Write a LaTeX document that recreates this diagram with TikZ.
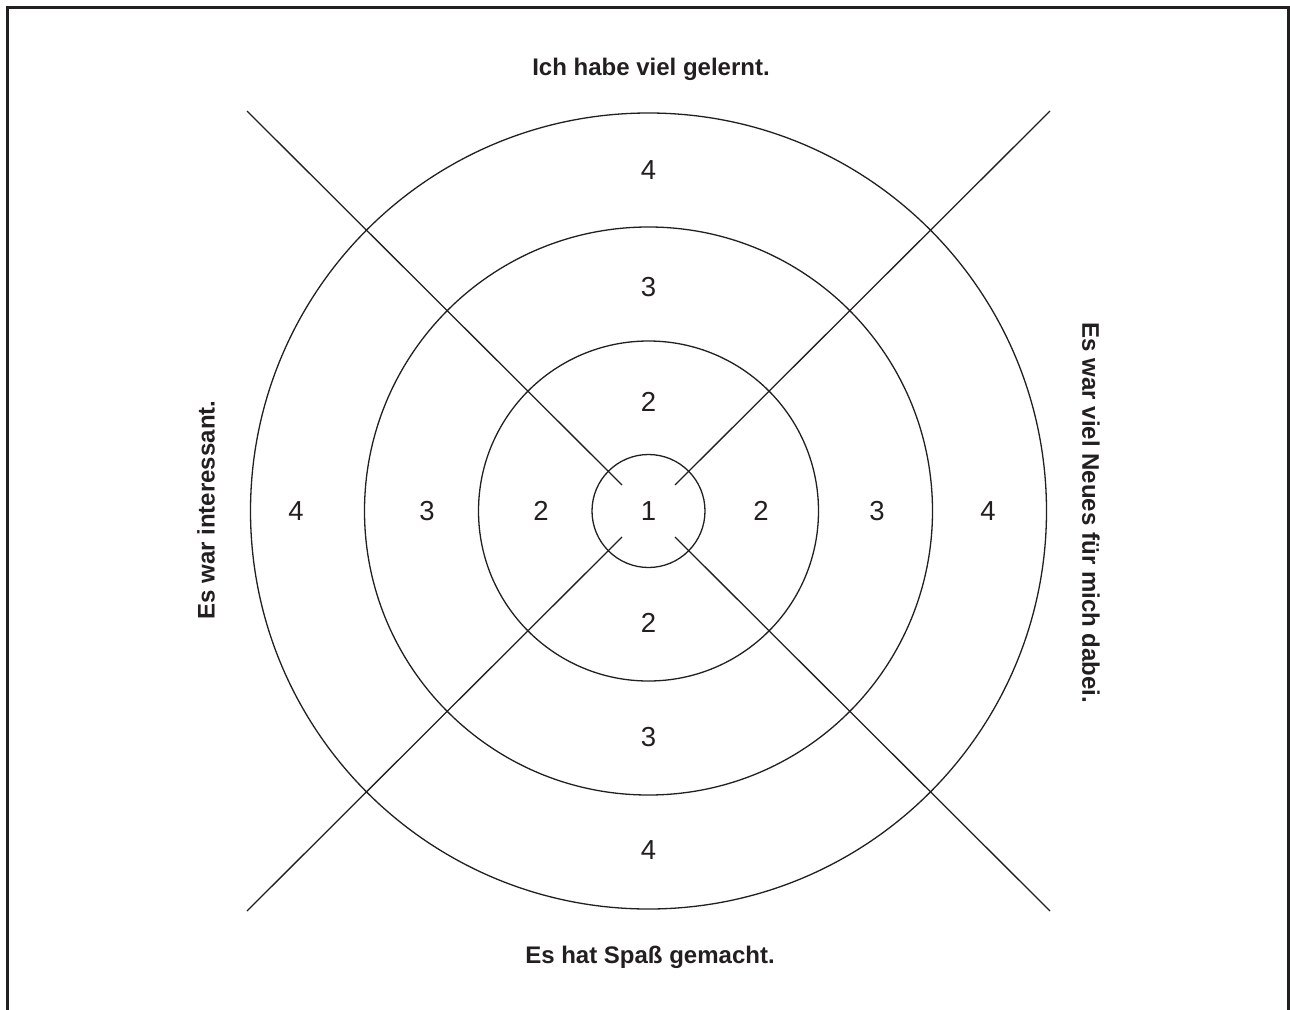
\documentclass[tikz,border=0pt]{standalone}
\usepackage{fontspec}
\setmainfont{Liberation Sans}
\definecolor{ink}{HTML}{231F20}
\begin{document}
\begin{tikzpicture}[x=1pt,y=-1pt,
  ring/.style={circle, draw=ink, line width=1.3pt, inner sep=0pt},
  ray/.style={draw=ink, line width=1.3pt},
  num/.style={text=ink, font=\fontsize{27.5}{30}\selectfont, inner sep=0pt},
  lbl/.style={text=ink, font=\bfseries\fontsize{24}{28}\selectfont, inner sep=0pt}]
\useasboundingbox (0,0) rectangle (1290,1009);
\draw[draw=ink, line width=2.6pt] (7.5,1020) -- (7.5,7.5) -- (1288.5,7.5) -- (1288.5,1020);
\coordinate (c) at (648.5,511);
\node[ring, minimum size=113pt] (r1) at (c) {};
\node[ring, minimum size=340pt] (r2) at (c) {};
\node[ring, minimum size=568pt] (r3) at (c) {};
\node[ring, minimum size=796pt] (r4) at (c) {};
% rays
\coordinate (tl) at (247,111);   \coordinate (tli) at (622,485);
\coordinate (tr) at (1050,111);  \coordinate (tri) at (675,485);
\coordinate (bl) at (247,911);   \coordinate (bli) at (622,537);
\coordinate (br) at (1050,911);  \coordinate (bri) at (675,537);
\draw[ray] (tl) -- (tli);
\draw[ray] (tr) -- (tri);
\draw[ray] (bl) -- (bli);
\draw[ray] (br) -- (bri);
% numbers
\node[num] (n1) at (648.5,511) {1};
\node[num] (t4) at (648.5,170) {4};
\node[num] (t3) at (648.5,287) {3};
\node[num] (t2) at (648.5,402) {2};
\node[num] (b2) at (648.5,623) {2};
\node[num] (b3) at (648.5,737) {3};
\node[num] (b4) at (648.5,850) {4};
\node[num] (l4) at (296,511) {4};
\node[num] (l3) at (427,511) {3};
\node[num] (l2) at (541,511) {2};
\node[num] (r2n) at (761,511) {2};
\node[num] (r3n) at (877,511) {3};
\node[num] (r4n) at (988,511) {4};
% labels
\node[lbl] (top) at (651,69) {Ich habe viel gelernt.};
\node[lbl] (bottom) at (650,957) {Es hat Spaß gemacht.};
\node[lbl, rotate=90] (left) at (206,510) {Es war interessant.};
\node[lbl, rotate=-90] (right) at (1091,513) {Es war viel Neues für mich dabei.};
\end{tikzpicture}
\end{document}
